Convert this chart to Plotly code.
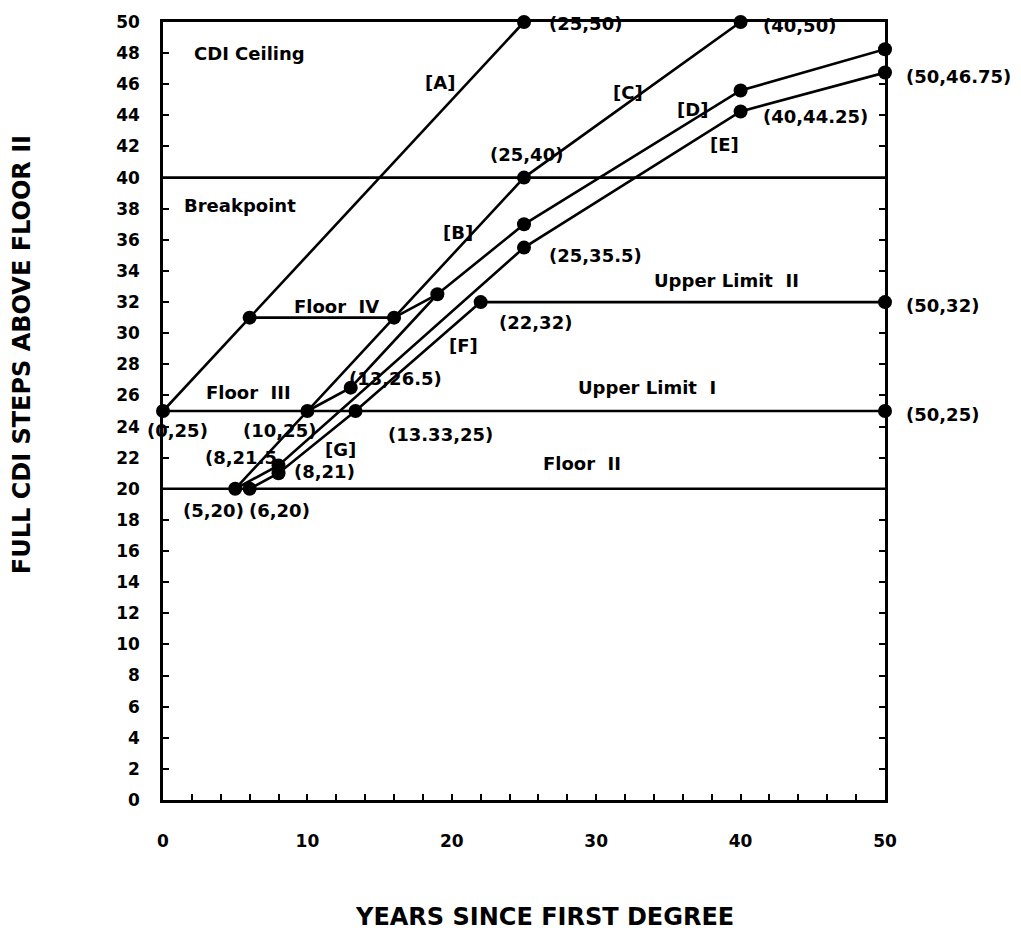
import plotly.graph_objects as go

# ---------------- data ----------------
x_tick_vals = [0, 10, 20, 30, 40, 50]
y_tick_vals = list(range(0, 51, 2))

# horizontal limit lines
floor_ii_x = [0, 50];        floor_ii_y = [20, 20]
upper_limit_i_x = [0, 50];   upper_limit_i_y = [25, 25]
breakpoint_x = [0, 50];      breakpoint_y = [40, 40]
upper_limit_ii_x = [22, 50]; upper_limit_ii_y = [32, 32]
floor_iv_x = [6, 16];        floor_iv_y = [31, 31]

# career paths
path_a_x = [0, 6, 25];               path_a_y = [25, 31, 50]
path_bc_x = [5, 10, 16, 25, 40];     path_bc_y = [20, 25, 31, 40, 50]
path_d_x = [10, 13, 19, 25, 40, 50]; path_d_y = [25, 26.5, 32.5, 37, 45.6, 48.25]
path_d2_x = [16, 19];                path_d2_y = [31, 32.5]
path_e_x = [5, 8, 25, 40, 50];       path_e_y = [20, 21.5, 35.5, 44.25, 46.75]
path_gf_x = [6, 8, 13.33, 22];       path_gf_y = [20, 21, 25, 32]

# marked points
pts_x = [0, 6, 25, 40, 5, 6, 8, 8, 10, 13, 13.33, 16, 19, 22, 25, 25, 25, 40, 40, 50, 50, 50, 50]
pts_y = [25, 31, 50, 50, 20, 20, 21.5, 21, 25, 26.5, 25, 31, 32.5, 32, 40, 37, 35.5, 45.6, 44.25, 48.25, 46.75, 32, 25]

# text labels: (text, x, y, anchor) in data units
labels = [
    ("CDI Ceiling", 2.0, 48.0, "left"),
    ("[A]", 19.2, 46.1, "center"),
    ("(25,50)", 26.6, 49.9, "left"),
    ("(40,50)", 41.4, 49.8, "left"),
    ("(50,46.75)", 51.3, 46.5, "left"),
    ("[C]", 32.2, 45.5, "center"),
    ("[D]", 36.7, 44.4, "center"),
    ("(40,44.25)", 41.4, 43.9, "left"),
    ("[E]", 38.9, 42.1, "center"),
    ("(25,40)", 25.2, 41.5, "center"),
    ("Breakpoint", 1.3, 38.2, "left"),
    ("[B]", 20.4, 36.5, "center"),
    ("(25,35.5)", 26.6, 35.0, "left"),
    ("Upper Limit\u00a0 II", 39.0, 33.4, "center"),
    ("(50,32)", 51.3, 31.8, "left"),
    ("Floor\u00a0 IV", 12.0, 31.7, "center"),
    ("(22,32)", 25.8, 30.7, "center"),
    ("[F]", 20.8, 29.2, "center"),
    ("(13,26.5)", 16.1, 27.1, "center"),
    ("Floor\u00a0 III", 5.9, 26.2, "center"),
    ("Upper Limit\u00a0 I", 33.5, 26.5, "center"),
    ("(0,25)", 1.0, 23.75, "center"),
    ("(10,25)", 8.1, 23.75, "center"),
    ("(13.33,25)", 19.2, 23.5, "center"),
    ("(50,25)", 51.3, 24.8, "left"),
    ("(8,21.5", 5.4, 22.0, "center"),
    ("[G]", 12.3, 22.5, "center"),
    ("(8,21)", 11.2, 21.1, "center"),
    ("Floor\u00a0 II", 29.0, 21.6, "center"),
    ("(5,20)", 3.5, 18.6, "center"),
    ("(6,20)", 8.1, 18.6, "center"),
]

x_title = "YEARS SINCE FIRST DEGREE"
y_title = "FULL CDI STEPS ABOVE FLOOR II"

X_MAX = 50
Y_MAX = 50

# ---------------- figure ----------------
FONT = "DejaVu Sans"
LW = 2.6
fig = go.Figure()

segments = [
    (floor_ii_x, floor_ii_y), (upper_limit_i_x, upper_limit_i_y),
    (breakpoint_x, breakpoint_y), (upper_limit_ii_x, upper_limit_ii_y),
    (floor_iv_x, floor_iv_y), (path_a_x, path_a_y), (path_bc_x, path_bc_y),
    (path_d_x, path_d_y), (path_d2_x, path_d2_y), (path_e_x, path_e_y),
    (path_gf_x, path_gf_y),
]
for sx, sy in segments:
    fig.add_trace(go.Scatter(x=sx, y=sy, mode="lines",
                             line=dict(color="black", width=LW),
                             cliponaxis=False, showlegend=False, hoverinfo="skip"))

fig.add_trace(go.Scatter(x=pts_x, y=pts_y, mode="markers",
                         marker=dict(color="black", size=14),
                         cliponaxis=False, showlegend=False, hoverinfo="skip"))

# labels placed in paper space (axis ranges start at 0) so those right of the plot stay visible
for text, lx, ly, anc in labels:
    fig.add_annotation(x=lx / X_MAX, y=ly / Y_MAX, xref="paper", yref="paper", text=text,
                       showarrow=False, xanchor=anc, yanchor="middle",
                       font=dict(family=FONT, size=18, color="black", weight="bold"))

fig.add_annotation(x=0.529, y=-0.151, xref="paper", yref="paper",
                   text=x_title, showarrow=False,
                   xanchor="center", yanchor="middle",
                   font=dict(family=FONT, size=24, color="black", weight="bold"))
fig.add_annotation(x=-0.195, y=0.572, xref="paper", yref="paper",
                   text=y_title, showarrow=False, textangle=-90,
                   xanchor="center", yanchor="middle",
                   font=dict(family=FONT, size=24, color="black", weight="bold"))

fig.update_layout(
    width=1021, height=937,
    margin=dict(l=163, r=136, t=14, b=137),
    plot_bgcolor="white", paper_bgcolor="white",
    showlegend=False,
)
fig.update_xaxes(
    range=[0, X_MAX], tickvals=x_tick_vals, ticks="inside", ticklen=6, tickwidth=1.5,
    tickcolor="black", showline=True, linecolor="black", linewidth=LW, mirror=True,
    showgrid=False, zeroline=False, ticklabelstandoff=24, ticklabeloverflow="allow",
    minor=dict(dtick=2, ticks="inside", ticklen=6, tickwidth=1.5, tickcolor="black"),
    tickfont=dict(family=FONT, size=17, color="black", weight="bold"),
)
fig.update_yaxes(
    range=[0, Y_MAX], tickvals=y_tick_vals, ticks="inside", ticklen=6, tickwidth=1.5,
    tickcolor="black", showline=True, linecolor="black", linewidth=LW, mirror="ticks",
    showgrid=False, zeroline=False, ticklabelstandoff=17, ticklabeloverflow="allow",
    tickfont=dict(family=FONT, size=17, color="black", weight="bold"),
)

# remove the browser's default page margin so the figure sits at the window origin
fig.write_html("out.html", config={"displayModeBar": False},
               post_script="document.body.style.margin='0';")
